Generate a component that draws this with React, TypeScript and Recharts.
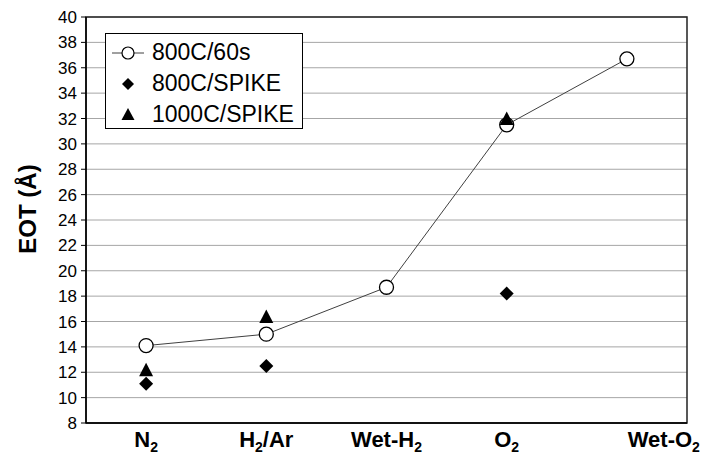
import React from 'react'
import {
  LineChart,
  Line,
  XAxis,
  YAxis,
  CartesianGrid,
  ReferenceArea
} from 'recharts'

const categories = ['N2', 'H2/Ar', 'Wet-H2', 'O2', 'Wet-O2']
const rtp60s = [14.1, 15.0, 18.7, 31.5, 36.7]
const spike800 = [11.1, 12.5, null, 18.2, null]
const spike1000 = [12.2, 16.4, null, 32.0, null]
const seriesNames = ['800C/60s', '800C/SPIKE', '1000C/SPIKE']
const yTicks = [8, 10, 12, 14, 16, 18, 20, 22, 24, 26, 28, 30, 32, 34, 36, 38, 40]

const data = categories.map((name, i) => ({
  x: i,
  name,
  a: rtp60s[i],
  b: spike800[i],
  c: spike1000[i]
}))

const FONT = "'Liberation Sans', Arial, sans-serif"

// "2" after a letter is a subscript (N2, H2/Ar ...)
function chemParts(label: string) {
  const parts: { t: string; sub: boolean }[] = []
  let buf = ''
  for (let i = 0; i < label.length; i++) {
    const ch = label[i]
    if (ch === '2' && i > 0 && /[A-Z]/.test(label[i - 1])) {
      if (buf) parts.push({ t: buf, sub: false })
      parts.push({ t: '2', sub: true })
      buf = ''
    } else {
      buf += ch
    }
  }
  if (buf) parts.push({ t: buf, sub: false })
  return parts
}

function CategoryTick(props: any) {
  const { x, y, payload } = props
  const idx = payload.value as number
  const label = categories[idx]
  if (!label) return null
  const last = idx === categories.length - 1
  const parts = chemParts(label)
  return (
    <text
      x={last ? x + 73 : x}
      y={y + 16}
      textAnchor={last ? 'end' : 'middle'}
      fontFamily={FONT}
      fontWeight="bold"
      fontSize={22}
      fill="#000"
    >
      {parts.map((p, i) => {
        const prevSub = i > 0 && parts[i - 1].sub
        if (p.sub) {
          return (
            <tspan key={i} fontSize={14} dy={5}>
              {p.t}
            </tspan>
          )
        }
        return (
          <tspan key={i} dy={prevSub ? -5 : 0}>
            {p.t}
          </tspan>
        )
      })}
    </text>
  )
}

function circleDot(props: any) {
  const { cx, cy, value, index } = props
  if (value == null || cy == null) return <g key={`a-${index}`} />
  return <circle key={`a-${index}`} cx={cx} cy={cy} r={7} fill="#fff" stroke="#000" strokeWidth={1.3} />
}

function diamondDot(props: any) {
  const { cx, cy, value, index } = props
  if (value == null || cy == null) return <g key={`b-${index}`} />
  const s = 7
  return (
    <path
      key={`b-${index}`}
      d={`M${cx},${cy - s}L${cx + s},${cy}L${cx},${cy + s}L${cx - s},${cy}Z`}
      fill="#000"
    />
  )
}

function triangleDot(props: any) {
  const { cx, cy, value, index } = props
  if (value == null || cy == null) return <g key={`c-${index}`} />
  return (
    <path
      key={`c-${index}`}
      d={`M${cx},${cy - 7}L${cx + 7},${cy + 6.5}L${cx - 7},${cy + 6.5}Z`}
      fill="#000"
    />
  )
}

function LegendBox() {
  const icons = [
    <svg width={36} height={20} key="i0">
      <line x1={2} y1={10} x2={34} y2={10} stroke="#404040" strokeWidth={1} />
      <circle cx={18} cy={10} r={6} fill="#fff" stroke="#000" strokeWidth={1.2} />
    </svg>,
    <svg width={36} height={20} key="i1">
      <path d="M18,4L24,10L18,16L12,10Z" fill="#000" />
    </svg>,
    <svg width={36} height={20} key="i2">
      <path d="M18,3L24.5,15L11.5,15Z" fill="#000" />
    </svg>
  ]
  return (
    <div
      style={{
        position: 'absolute',
        left: 105,
        top: 33,
        boxSizing: 'border-box',
        width: 198,
        height: 96,
        border: '1px solid #000',
        background: '#fff',
        paddingTop: 3,
        paddingLeft: 4,
        fontFamily: FONT,
        fontSize: 23,
        color: '#000'
      }}
    >
      {seriesNames.map((n, i) => (
        <div key={n} style={{ display: 'flex', alignItems: 'center', height: 31 }}>
          {icons[i]}
          <span style={{ marginLeft: 6, whiteSpace: 'nowrap' }}>{n}</span>
        </div>
      ))}
    </div>
  )
}

export default function App() {
  return (
    <div style={{ position: 'absolute', left: 0, top: 0, width: 702, height: 456, background: '#fff' }}>
      <LineChart
        width={702}
        height={456}
        data={data}
        margin={{ top: 17, right: 15, bottom: 0, left: 0 }}
      >
        <CartesianGrid vertical={false} stroke="#a6a6a6" strokeWidth={1} />
        <XAxis
          type="number"
          dataKey="x"
          domain={[-0.5, 4.5]}
          ticks={[0, 1, 2, 3, 4]}
          height={33}
          tickLine={false}
          axisLine={{ stroke: '#000', strokeWidth: 1.5 }}
          tick={<CategoryTick />}
          interval={0}
        />
        <YAxis
          type="number"
          domain={[8, 40]}
          ticks={yTicks}
          width={86}
          interval={0}
          tickSize={5}
          tickMargin={4}
          tickLine={{ stroke: '#000', strokeWidth: 1 }}
          axisLine={{ stroke: '#000', strokeWidth: 1.5 }}
          tick={{ fill: '#000', fontSize: 17, fontFamily: FONT }}
          label={{
            content: () => {
              const cx = 27
              const cy = 209
              return (
                <text
                  x={cx}
                  y={cy}
                  transform={`rotate(-90, ${cx}, ${cy})`}
                  textAnchor="middle"
                  dominantBaseline="central"
                  fontFamily={FONT}
                  fontWeight="bold"
                  fontSize={24}
                  fill="#000"
                >
                  EOT (Å)
                </text>
              )
            }
          }}
        />
        <ReferenceArea
          x1={-0.5}
          x2={4.5}
          y1={8}
          y2={40}
          fill="none"
          stroke="#222"
          strokeWidth={1.5}
          ifOverflow="visible"
        />
        <Line
          dataKey="a"
          name={seriesNames[0]}
          type="linear"
          stroke="#404040"
          strokeWidth={1}
          dot={circleDot}
          activeDot={false}
          isAnimationActive={false}
        />
        <Line
          dataKey="b"
          name={seriesNames[1]}
          stroke="none"
          dot={diamondDot}
          activeDot={false}
          isAnimationActive={false}
        />
        <Line
          dataKey="c"
          name={seriesNames[2]}
          stroke="none"
          dot={triangleDot}
          activeDot={false}
          isAnimationActive={false}
        />
      </LineChart>
      <LegendBox />
    </div>
  )
}
